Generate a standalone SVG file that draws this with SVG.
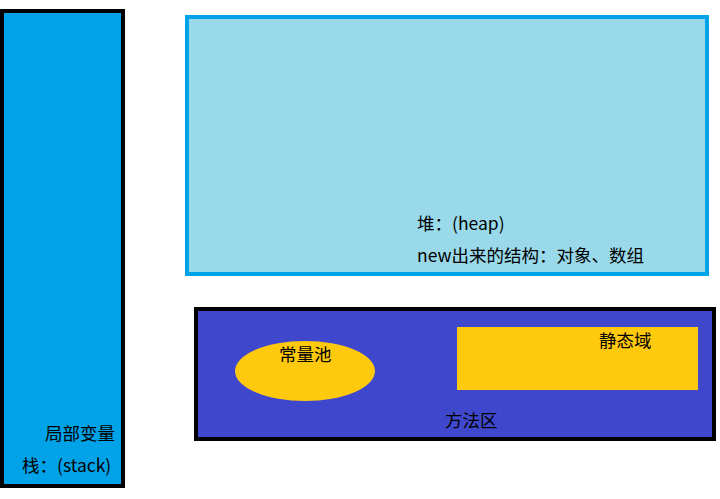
<svg xmlns="http://www.w3.org/2000/svg" width="720" height="499" viewBox="0 0 720 499">
<style>
text{font-family:"Noto Sans CJK SC","Noto Sans",sans-serif;font-size:17.5px;fill:#000}
.gold{fill:#ffc90e}
</style>
<rect width="720" height="499" fill="#fff"/>
<g id="stack">
<rect x="2" y="11" width="121" height="475" fill="#00a2e8" stroke="#000" stroke-width="4"/>
<text x="45" y="440">局部变量</text>
<text x="22" y="472">栈：(stack)</text>
</g>
<g id="heap">
<rect x="187" y="17" width="520" height="257" fill="#99d9ea" stroke="#00a2e8" stroke-width="4"/>
<text x="417" y="230">堆：(heap)</text>
<text x="417" y="262">new出来的结构：对象、数组</text>
</g>
<g id="method-area">
<rect x="196" y="309" width="518" height="130" fill="#3f48cc" stroke="#000" stroke-width="4"/>
<text x="445" y="427">方法区</text>
</g>
<g id="constant-pool">
<ellipse cx="305" cy="371" rx="70" ry="30" class="gold"/>
<text x="279" y="361">常量池</text>
</g>
<g id="static-field">
<rect x="457" y="327" width="241" height="63" class="gold"/>
<text x="599" y="347">静态域</text>
</g>
<g id="connectors"></g>
</svg>
